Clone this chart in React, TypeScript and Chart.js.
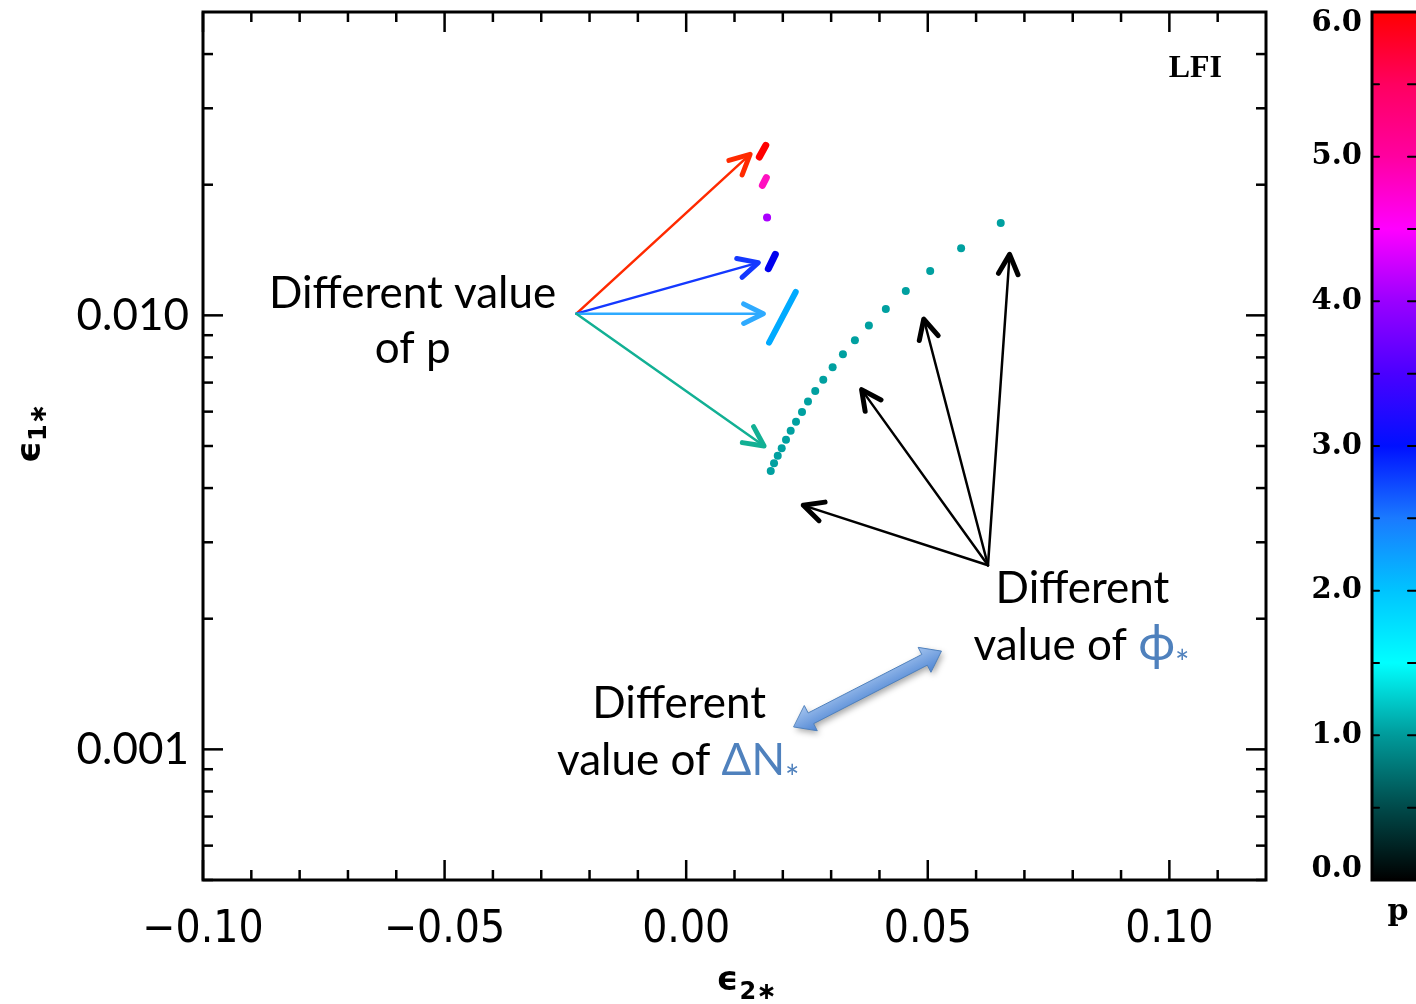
import React, { useEffect, useRef } from "react";
import { Chart, registerables } from "chart.js";

Chart.register(...registerables);

// ---- axis ranges & ticks ----
const X_MIN = -0.1;
const X_MAX = 0.12;
const Y_MIN = 0.0005;
const Y_MAX = 0.05;
const xMajorTicks = [-0.1, -0.05, 0, 0.05, 0.1];
const xMinorTicks = [-0.09, -0.08, -0.07, -0.06, -0.04, -0.03, -0.02, -0.01, 0.01, 0.02, 0.03, 0.04, 0.06, 0.07, 0.08, 0.09, 0.11];
const yMajorTicks = [0.001, 0.01];
const yMinorTicks = [0.0005, 0.0006, 0.0007, 0.0008, 0.0009, 0.002, 0.003, 0.004, 0.005, 0.006, 0.007, 0.008, 0.009, 0.02, 0.03, 0.04];
const cbMajorTicks = [0, 1, 2, 3, 4, 5, 6];
const cbMinorTicks = [0.5, 1.5, 2.5, 3.5, 4.5, 5.5];
const cbLabels = ["0.0", "1.0", "2.0", "3.0", "4.0", "5.0", "6.0"];
const cbStops: [number, string][] = [
  [0, "#000000"], [0.5, "#004a4a"], [1.0, "#009a9a"], [1.5, "#00ffff"], [2.0, "#00c4ff"],
  [2.5, "#1a7aff"], [3.0, "#0010ff"], [3.5, "#4a00ff"], [4.0, "#9a00ff"], [4.5, "#ff00ff"],
  [5.0, "#ff00a0"], [5.5, "#ff0060"], [6.0, "#ff0000"],
];

// ---- data (epsilon2*, epsilon1*) ----
const p1X = [0.0175, 0.01818, 0.01895, 0.01977, 0.02066, 0.02163, 0.02273, 0.02397, 0.02521, 0.02671, 0.02837, 0.03031, 0.03244, 0.03492, 0.03781, 0.04132, 0.04545, 0.0505, 0.0569, 0.0651];
const p1Y = [0.00438, 0.00456, 0.00475, 0.00494, 0.00517, 0.00542, 0.00569, 0.00599, 0.00633, 0.00669, 0.00711, 0.00759, 0.00813, 0.00876, 0.00948, 0.01034, 0.01138, 0.01265, 0.01427, 0.01632];
const p2X = [0.01715, 0.02267];
const p2Y = [0.00865, 0.01132];
const p3X = [0.017, 0.01845];
const p3Y = [0.01281, 0.01382];
const p4X = [0.01674];
const p4Y = [0.01681];
const p5X = [0.01577, 0.01659];
const p5Y = [0.01993, 0.02077];
const p6X = [0.01514, 0.01647];
const p6Y = [0.02316, 0.02464];

// ---- annotations (data coordinates) ----
const pArrowFrom = [-0.02273, 0.01009];
const pArrowTips = [
  { x: 0.01322, y: 0.0235, color: "#ff2a00" },
  { x: 0.01494, y: 0.01323, color: "#1438ff" },
  { x: 0.01597, y: 0.01009, color: "#2eaaff" },
  { x: 0.01612, y: 0.005, color: "#12b094" },
];
const phiArrowFrom = [0.06246, 0.002655];
const phiArrowTips = [
  [0.02424, 0.00365],
  [0.0363, 0.006743],
  [0.04917, 0.009806],
  [0.06694, 0.01382],
];
const dnArrow = [[0.02231, 0.001126], [0.05283, 0.001684]];
// parts: [text, colour, size, baseline shift]
const textLines = [
  { x: -0.05661, y: 0.010378, parts: [["Different value", "#000", 44, 0]] },
  { x: -0.05661, y: 0.00775, parts: [["of p", "#000", 44, 0]] },
  { x: 0.08202, y: 0.00217, parts: [["Different", "#000", 44, 0]] },
  { x: 0.08182, y: 0.001603, parts: [["value of ", "#000", 44, 0], ["\u03D5", "#4f81bd", 50, 0], ["*", "#4f81bd", 34, 15]] },
  { x: -0.001446, y: 0.001179, parts: [["Different", "#000", 44, 0]] },
  { x: -0.001653, y: 0.000871, parts: [["value of ", "#000", 44, 0], ["\u0394N", "#4f81bd", 44, 0], ["*", "#4f81bd", 34, 15]] },
];
const modelLabel = { x: 0.10537, y: 0.03708, text: "LFI" };

const mk = (xs: number[], ys: number[]) => xs.map((x, i) => ({ x, y: ys[i] }));

const ANN_FONT = "Lato, 'Open Sans', 'DejaVu Sans', sans-serif";

const overlay = {
  id: "overlay",
  afterDraw(chart: any) {
    const ctx: CanvasRenderingContext2D = chart.ctx;
    const xs = chart.scales.x;
    const ys = chart.scales.y;
    const { left, right, top, bottom } = chart.chartArea;
    const P = (x: number, y: number) => [xs.getPixelForValue(x), ys.getPixelForValue(y)];
    ctx.save();

    // ---- frame & ticks ----
    ctx.strokeStyle = "#000";
    ctx.lineWidth = 3;
    ctx.strokeRect(left, top, right - left, bottom - top);
    ctx.lineWidth = 2.5;
    const tick = (x0: number, y0: number, x1: number, y1: number) => {
      ctx.beginPath(); ctx.moveTo(x0, y0); ctx.lineTo(x1, y1); ctx.stroke();
    };
    xMajorTicks.forEach((v) => { const px = xs.getPixelForValue(v); tick(px, bottom, px, bottom - 20); tick(px, top, px, top + 20); });
    xMinorTicks.forEach((v) => { const px = xs.getPixelForValue(v); tick(px, bottom, px, bottom - 10); tick(px, top, px, top + 10); });
    yMajorTicks.forEach((v) => { const py = ys.getPixelForValue(v); tick(left, py, left + 20, py); tick(right, py, right - 20, py); });
    yMinorTicks.forEach((v) => { const py = ys.getPixelForValue(v); tick(left, py, left + 10, py); tick(right, py, right - 10, py); });

    // ---- axis titles ----
    ctx.fillStyle = "#000";
    ctx.textBaseline = "alphabetic";
    ctx.textAlign = "left";
    const cx = (left + right) / 2;
    ctx.font = "bold 34px 'DejaVu Sans'";
    ctx.fillText("\u03F5", cx - 18, 990);
    ctx.font = "bold 24px 'DejaVu Sans'";
    ctx.fillText("2\u2217", cx + 5, 999);
    ctx.save();
    ctx.translate(40, (top + bottom) / 2 + 17);
    ctx.rotate(-Math.PI / 2);
    ctx.font = "bold 34px 'DejaVu Sans'";
    ctx.fillText("\u03F5", 0, 0);
    ctx.font = "bold 24px 'DejaVu Sans'";
    ctx.fillText("1\u2217", 22, 6);
    ctx.restore();

    // ---- LFI ----
    {
      const [lx, ly] = P(modelLabel.x, modelLabel.y);
      ctx.font = "bold 32px 'Liberation Serif'";
      ctx.textAlign = "center";
      ctx.textBaseline = "middle";
      ctx.fillText(modelLabel.text, lx, ly);
    }

    // ---- arrows ----
    const arrow = (x0: number, y0: number, x1: number, y1: number, color: string) => {
      ctx.strokeStyle = color;
      ctx.lineCap = "round";
      ctx.lineJoin = "round";
      ctx.lineWidth = 2.5;
      ctx.beginPath(); ctx.moveTo(x0, y0); ctx.lineTo(x1, y1); ctx.stroke();
      const a = Math.atan2(y1 - y0, x1 - x0);
      const hl = 22, ha = 0.46;
      ctx.lineWidth = 5;
      ctx.beginPath();
      ctx.moveTo(x1 - hl * Math.cos(a - ha), y1 - hl * Math.sin(a - ha));
      ctx.lineTo(x1, y1);
      ctx.lineTo(x1 - hl * Math.cos(a + ha), y1 - hl * Math.sin(a + ha));
      ctx.stroke();
    };
    {
      const [ox, oy] = P(pArrowFrom[0], pArrowFrom[1]);
      pArrowTips.forEach((t) => { const [tx, ty] = P(t.x, t.y); arrow(ox, oy, tx, ty, t.color); });
      const [bx, by] = P(phiArrowFrom[0], phiArrowFrom[1]);
      phiArrowTips.forEach((t) => { const [tx, ty] = P(t[0], t[1]); arrow(bx, by, tx, ty, "#000"); });
    }

    // ---- double block arrow ----
    {
      const [ax, ay] = P(dnArrow[0][0], dnArrow[0][1]);
      const [bx, by] = P(dnArrow[1][0], dnArrow[1][1]);
      const L = Math.hypot(bx - ax, by - ay);
      const dx = (bx - ax) / L, dy = (by - ay) / L;
      const nx = -dy, ny = dx;
      const sw = 6, hw = 14, hl = 19;
      const pt = (s: number, n: number) => [ax + dx * s + nx * n, ay + dy * s + ny * n];
      const pts = [pt(0, 0), pt(hl, hw), pt(hl, sw), pt(L - hl, sw), pt(L - hl, hw), pt(L, 0), pt(L - hl, -hw), pt(L - hl, -sw), pt(hl, -sw), pt(hl, -hw)];
      ctx.save();
      ctx.shadowColor = "rgba(0,0,0,0.35)";
      ctx.shadowBlur = 6;
      ctx.shadowOffsetX = 2;
      ctx.shadowOffsetY = 3;
      const g = ctx.createLinearGradient(ax + nx * -hw, ay + ny * -hw, ax + nx * hw, ay + ny * hw);
      g.addColorStop(0, "#a3c3ee");
      g.addColorStop(1, "#4f86d4");
      ctx.fillStyle = g;
      ctx.beginPath();
      pts.forEach((p, i) => (i ? ctx.lineTo(p[0], p[1]) : ctx.moveTo(p[0], p[1])));
      ctx.closePath();
      ctx.fill();
      ctx.restore();
      ctx.strokeStyle = "#4f81bd";
      ctx.lineWidth = 1;
      ctx.lineJoin = "miter";
      ctx.beginPath();
      pts.forEach((p, i) => (i ? ctx.lineTo(p[0], p[1]) : ctx.moveTo(p[0], p[1])));
      ctx.closePath();
      ctx.stroke();
    }

    // ---- text annotations ----
    ctx.textBaseline = "alphabetic";
    ctx.textAlign = "left";
    textLines.forEach((ln) => {
      const [px, py] = P(ln.x, ln.y);
      const widths = ln.parts.map((p: any) => {
        ctx.font = `${p[2]}px ${ANN_FONT}`;
        return ctx.measureText(p[0]).width;
      });
      const total = widths.reduce((a: number, b: number) => a + b, 0);
      let x = px - total / 2;
      ln.parts.forEach((p: any, i: number) => {
        ctx.font = `${p[2]}px ${ANN_FONT}`;
        ctx.fillStyle = p[1];
        ctx.fillText(p[0], x, py + p[3]);
        x += widths[i];
      });
    });

    // ---- colour bar ----
    {
      const cbL = right + 106;
      const cbR = chart.width + 20;
      const cbY = (v: number) => bottom - (v / 6) * (bottom - top);
      const g = ctx.createLinearGradient(0, bottom, 0, top);
      cbStops.forEach(([v, c]) => g.addColorStop(v / 6, c));
      ctx.fillStyle = g;
      ctx.fillRect(cbL, top, cbR - cbL, bottom - top);
      ctx.strokeStyle = "#000";
      ctx.lineWidth = 3;
      ctx.strokeRect(cbL, top, cbR - cbL, bottom - top);
      ctx.lineWidth = 2;
      [...cbMajorTicks, ...cbMinorTicks].forEach((v) => {
        const py = cbY(v);
        tick(cbL, py, cbL + 7, py);
        tick(chart.width, py, chart.width - 8, py);
      });
      ctx.fillStyle = "#000";
      ctx.font = "bold 29px 'DejaVu Serif'";
      ctx.textAlign = "right";
      ctx.textBaseline = "middle";
      cbMajorTicks.forEach((v, i) => {
        const py = Math.min(Math.max(cbY(v), top + 11), bottom - 11);
        ctx.fillText(cbLabels[i], cbL - 10, py);
      });
      ctx.textAlign = "center";
      ctx.font = "bold 30px 'DejaVu Serif'";
      ctx.fillText("p", cbL + 26, 912);
    }
    ctx.restore();
  },
};

export default function App() {
  const ref = useRef<HTMLCanvasElement>(null);
  useEffect(() => {
    if (!ref.current) return;
    const seg = (xs: number[], ys: number[], color: string, w: number) => ({
      data: mk(xs, ys),
      showLine: true,
      borderColor: color,
      backgroundColor: color,
      borderWidth: w,
      borderCapStyle: "round" as const,
      pointRadius: xs.length === 1 ? 4 : 0,
      pointBorderWidth: 0,
    });
    const chart = new Chart(ref.current, {
      type: "scatter",
      data: {
        datasets: [
          { data: mk(p1X, p1Y), backgroundColor: "#00a0a0", borderColor: "#00a0a0", pointRadius: 4, pointBorderWidth: 0, showLine: false },
          seg(p2X, p2Y, "#00aaff", 6),
          seg(p3X, p3Y, "#0000ee", 7),
          seg(p4X, p4Y, "#aa00ff", 7),
          seg(p5X, p5Y, "#ff10c0", 7),
          seg(p6X, p6Y, "#ff0000", 7),
        ],
      },
      options: {
        responsive: false,
        animation: false,
        layout: { padding: { top: 12, right: 150, left: 0, bottom: 0 } },
        plugins: { legend: { display: false }, tooltip: { enabled: false } },
        scales: {
          x: {
            type: "linear",
            min: X_MIN,
            max: X_MAX,
            grid: { display: false, drawTicks: false },
            border: { display: false },
            afterBuildTicks: (s: any) => { s.ticks = xMajorTicks.map((v) => ({ value: v })); },
            afterFit: (s: any) => { s.height = 124; s.paddingLeft = 0; s.paddingRight = 0; },
            ticks: {
              autoSkip: false,
              maxRotation: 0,
              padding: 24,
              color: "#000",
              font: { family: "'Liberation Sans Narrow', 'DejaVu Sans Condensed', 'DejaVu Sans'", size: 44 },
              callback: (v: any) => (v < -1e-9 ? "\u2212" : "") + Math.abs(Number(v)).toFixed(2),
            },
          },
          y: {
            type: "logarithmic",
            min: Y_MIN,
            max: Y_MAX,
            grid: { display: false, drawTicks: false },
            border: { display: false },
            afterBuildTicks: (s: any) => { s.ticks = yMajorTicks.map((v) => ({ value: v })); },
            afterFit: (s: any) => { s.width = 203; s.paddingTop = 0; s.paddingBottom = 0; },
            ticks: {
              autoSkip: false,
              padding: 14,
              color: "#000",
              font: { family: ANN_FONT, size: 44 },
              callback: (v: any) => Number(v).toFixed(3),
            },
          },
        },
      },
      plugins: [overlay],
    });
    return () => chart.destroy();
  }, []);
  return (
    <div style={{ position: "absolute", left: 0, top: 0, width: 1416, height: 1004, background: "#fff" }}>
      <canvas ref={ref} width={1416} height={1004} style={{ display: "block" }} />
    </div>
  );
}
